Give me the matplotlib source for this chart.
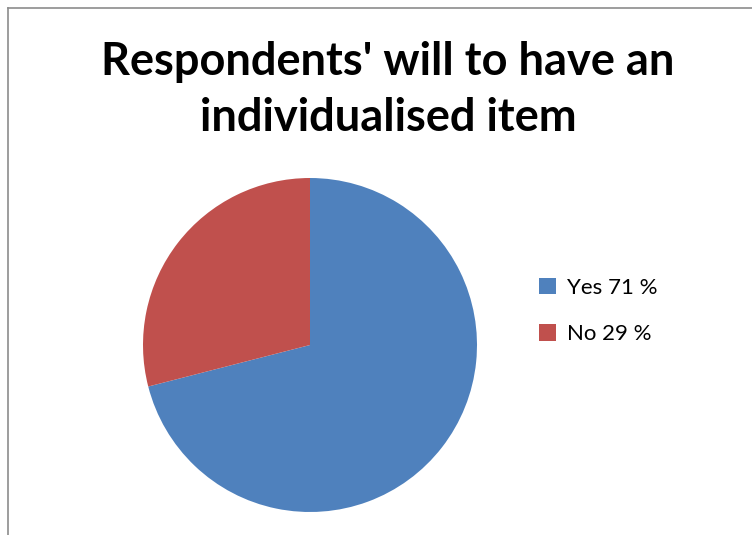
import matplotlib.pyplot as plt
from matplotlib.lines import Line2D

labels = ["Yes 71 %", "No 29 %"]
values = [71, 29]
colors = ["#4F81BD", "#C0504D"]
title = "Respondents' will to have an\nindividualised item"

plt.rcParams['font.family'] = ['Lato', 'DejaVu Sans']

W, H = 752, 535
fig = plt.figure(figsize=(W / 100, H / 100), dpi=100)

# chart frame (only top and left edges are visible)
fig.add_artist(Line2D([8 / W, 8 / W], [0, 1 - 8 / H], color="#8c8c8c", lw=1.2))
fig.add_artist(Line2D([8 / W, 1], [1 - 8 / H, 1 - 8 / H], color="#8c8c8c", lw=1.2))

cx, cy, r = 310, 345, 167
ax = fig.add_axes([(cx - r) / W, (H - cy - r) / H, 2 * r / W, 2 * r / H])
wedges, _ = ax.pie(values, colors=colors, startangle=90, counterclock=False,
                   radius=1, wedgeprops=dict(linewidth=0))
ax.set_xlim(-1, 1)
ax.set_ylim(-1, 1)
ax.set_aspect('equal')
ax.axis('off')

fig.text(388 / W, 1 - 90 / H, title, ha='center', va='center',
         fontsize=32.5, fontweight='bold', linespacing=1.42)

fig.legend(wedges, labels, loc='center left',
           bbox_to_anchor=(519 / W, 1 - 311 / H), frameon=False,
           fontsize=16, handlelength=0.75, handleheight=0.75,
           handletextpad=0.5, labelspacing=1.2)

fig.savefig("out.png", dpi=100)
